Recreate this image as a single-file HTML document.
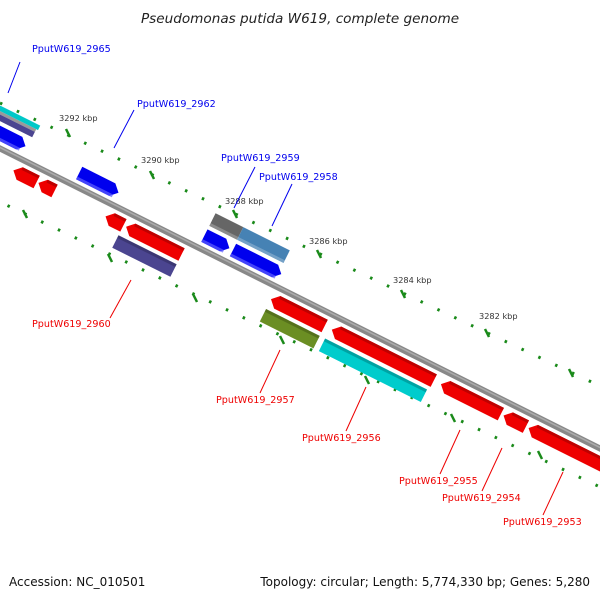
<!DOCTYPE html>
<html><head><meta charset="utf-8"><style>
body{margin:0;background:#fff}
svg{display:block;font-family:"DejaVu Sans","Liberation Sans",sans-serif}
</style></head><body>
<svg width="600" height="600" viewBox="0 0 600 600" xmlns="http://www.w3.org/2000/svg">
<rect width="600" height="600" fill="#fff"/>
<text x="300" y="23" text-anchor="middle" font-size="13.6" font-style="italic" fill="#222">Pseudomonas putida W619, complete genome</text>

<line x1="0" y1="103" x2="600" y2="386" stroke="#1a8a1a" stroke-width="3" stroke-dasharray="2.5 16.1"/>
<line x1="0" y1="202" x2="600" y2="487" stroke="#1a8a1a" stroke-width="3" stroke-dasharray="2.5 16.1" stroke-dashoffset="-8.3"/>
<g stroke="#1a8a1a" stroke-width="2.5">
<line x1="66" y1="129" x2="70" y2="137"/><line x1="150" y1="171" x2="154" y2="179"/>
<line x1="233" y1="210" x2="237" y2="218"/><line x1="317" y1="250" x2="321" y2="258"/>
<line x1="401" y1="290" x2="405" y2="298"/><line x1="485" y1="329" x2="489" y2="337"/>
<line x1="569" y1="369" x2="573" y2="377"/>
<line x1="23" y1="210" x2="27" y2="218"/><line x1="108" y1="254" x2="112" y2="262"/>
<line x1="193" y1="294" x2="197" y2="302"/><line x1="280" y1="336" x2="284" y2="344"/>
<line x1="365" y1="376" x2="369" y2="384"/><line x1="451" y1="414" x2="455" y2="422"/>
<line x1="538" y1="451" x2="542" y2="459"/>
</g>
<g font-size="8.2" fill="#333">
<text x="59" y="121">3292 kbp</text><text x="141" y="163">3290 kbp</text>
<text x="225" y="204">3288 kbp</text><text x="309" y="244">3286 kbp</text>
<text x="393" y="283">3284 kbp</text><text x="479" y="319">3282 kbp</text>
</g>

<line x1="-5" y1="146" x2="605" y2="451" stroke="#888" stroke-width="6"/>
<line x1="-5" y1="145" x2="605" y2="450" stroke="#aaa" stroke-width="1.5"/>

<g transform="translate(0,148) rotate(26.57)">
<g fill="#0000ee">
<polygon points="-20,-20 15,-20 22,-13 15,-6 -20,-6"/>
<polygon points="82,-20 119,-20 126,-13 119,-6 82,-6"/>
<polygon points="222,-20 243,-20 250,-13 243,-6 222,-6"/>
<polygon points="254,-20 301,-20 308,-13 301,-6 254,-6"/>
</g>
<g fill="#6060ff" opacity="0.7">
<rect x="-20" y="-9" width="38" height="3"/><rect x="82" y="-9" width="40" height="3"/>
<rect x="222" y="-9" width="24" height="3"/><rect x="254" y="-9" width="50" height="3"/>
</g>
<rect x="-20" y="-38" width="46" height="5" fill="#00c8c8"/>
<rect x="-20" y="-33" width="44" height="3" fill="#999"/>
<rect x="-20" y="-30" width="44" height="6" fill="#4b4590"/>
<rect x="222" y="-38" width="31" height="14" fill="#666"/>
<rect x="253" y="-38" width="52" height="14" fill="#4682b4"/>
<rect x="222" y="-27" width="83" height="3" fill="#fff" opacity="0.25"/>
<g fill="#ee0000">
<polygon points="22,14 29,7 48,7 48,21 29,21"/>
<polygon points="50,14 57,7 68,7 68,21 57,21"/>
<polygon points="125,14 132,7 145,7 145,21 132,21"/>
<polygon points="148,14 155,7 210,7 210,21 155,21"/>
<polygon points="310,14 317,7 370,7 370,21 317,21"/>
<polygon points="378,14 385,7 492,7 492,21 385,21"/>
<polygon points="500,14 507,7 567,7 567,21 507,21"/>
<polygon points="570,14 577,7 595,7 595,21 577,21"/>
<polygon points="598,14 605,7 700,7 700,21 605,21"/>
</g>
<g fill="#a00000" opacity="0.6">
<rect x="29" y="7" width="19" height="3"/><rect x="57" y="7" width="11" height="3"/>
<rect x="132" y="7" width="13" height="3"/><rect x="155" y="7" width="55" height="3"/>
<rect x="317" y="7" width="53" height="3"/><rect x="385" y="7" width="107" height="3"/>
<rect x="507" y="7" width="60" height="3"/><rect x="577" y="7" width="18" height="3"/>
<rect x="605" y="7" width="95" height="3"/>
</g>
<rect x="145" y="25" width="65" height="14" fill="#4b4590"/>
<rect x="310" y="25" width="60" height="14" fill="#6b8e23"/>
<rect x="376" y="25" width="114" height="14" fill="#00cccc"/>
<g fill="#000" opacity="0.2">
<rect x="145" y="25" width="65" height="3"/><rect x="310" y="25" width="60" height="3"/><rect x="376" y="25" width="114" height="3"/>
</g>
</g>

<g font-size="9.6" fill="#0000ee">
<text x="32" y="52">PputW619_2965</text>
<text x="137" y="107">PputW619_2962</text>
<text x="221" y="161">PputW619_2959</text>
<text x="259" y="180">PputW619_2958</text>
</g>
<g stroke="#0000ee" stroke-width="1">
<line x1="20" y1="62" x2="8" y2="93"/>
<line x1="134" y1="110" x2="114" y2="148"/>
<line x1="255" y1="167" x2="234" y2="208"/>
<line x1="292" y1="184" x2="272" y2="226"/>
</g>
<g font-size="9.6" fill="#ee0000">
<text x="32" y="327">PputW619_2960</text>
<text x="216" y="403">PputW619_2957</text>
<text x="302" y="441">PputW619_2956</text>
<text x="399" y="484">PputW619_2955</text>
<text x="442" y="501">PputW619_2954</text>
<text x="503" y="525">PputW619_2953</text>
</g>
<g stroke="#ee0000" stroke-width="1">
<line x1="131" y1="280" x2="110" y2="318"/>
<line x1="280" y1="350" x2="260" y2="393"/>
<line x1="366" y1="387" x2="346" y2="431"/>
<line x1="460" y1="430" x2="440" y2="474"/>
<line x1="502" y1="448" x2="482" y2="491"/>
<line x1="563" y1="472" x2="543" y2="515"/>
</g>

<text x="9" y="586" font-size="12" fill="#111">Accession: NC_010501</text>
<text x="590" y="586" font-size="12" fill="#111" text-anchor="end">Topology: circular; Length: 5,774,330 bp; Genes: 5,280</text>
</svg>
</body></html>
